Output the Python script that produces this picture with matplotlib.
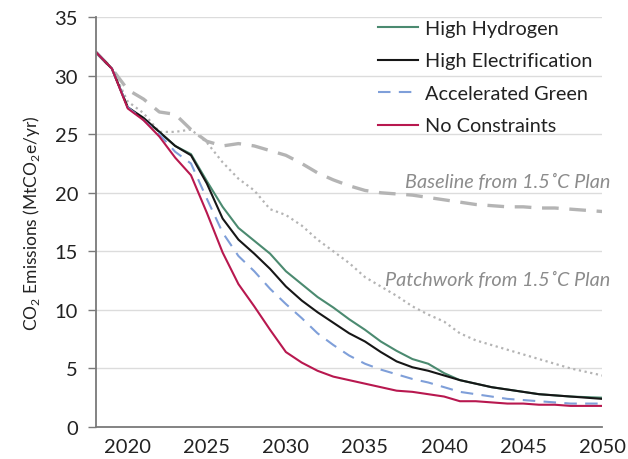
import matplotlib
matplotlib.use("Agg")
import matplotlib.pyplot as plt

plt.rcParams['font.family'] = ['Lato', 'DejaVu Sans']
plt.rcParams['mathtext.fontset'] = 'custom'
plt.rcParams['mathtext.rm'] = 'Lato'

years = list(range(2018, 2051))

# scenario emissions, MtCO2e/yr
high_hydrogen = [32.0, 30.6, 27.3, 26.3, 25.2, 24.0, 23.3, 21.0, 18.8, 17.0,
                 15.9, 14.8, 13.3, 12.2, 11.1, 10.2, 9.2, 8.3, 7.3, 6.5,
                 5.8, 5.4, 4.6, 4.0, 3.7, 3.4, 3.2, 3.0, 2.8, 2.7,
                 2.6, 2.55, 2.5]
high_electrification = [32.0, 30.6, 27.3, 26.4, 25.2, 24.0, 23.2, 20.8, 17.8, 16.0,
                        14.8, 13.5, 12.0, 10.8, 9.8, 8.9, 8.0, 7.3, 6.4, 5.6,
                        5.1, 4.8, 4.4, 4.0, 3.7, 3.4, 3.2, 3.0, 2.8, 2.7,
                        2.6, 2.5, 2.4]
accelerated_green = [32.0, 30.6, 27.3, 26.2, 25.0, 23.5, 22.5, 19.5, 16.6, 14.6,
                     13.3, 11.8, 10.5, 9.3, 8.0, 7.0, 6.1, 5.4, 4.9, 4.5,
                     4.1, 3.8, 3.4, 3.0, 2.8, 2.6, 2.4, 2.3, 2.2, 2.1,
                     2.0, 2.0, 2.0]
no_constraints = [32.0, 30.6, 27.2, 26.2, 24.8, 23.0, 21.5, 18.3, 14.9, 12.2,
                  10.3, 8.3, 6.4, 5.5, 4.8, 4.3, 4.0, 3.7, 3.4, 3.1,
                  3.0, 2.8, 2.6, 2.2, 2.2, 2.1, 2.0, 2.0, 1.9, 1.9,
                  1.8, 1.8, 1.8]

# reference pathways from the 1.5C plan
baseline = [32.0, 30.6, 28.8, 28.0, 26.9, 26.7, 25.4, 24.4, 24.0, 24.2,
            24.0, 23.6, 23.2, 22.5, 21.7, 21.1, 20.6, 20.2, 20.0, 19.9,
            19.8, 19.6, 19.4, 19.2, 19.0, 18.9, 18.8, 18.8, 18.7, 18.7,
            18.6, 18.5, 18.4]
patchwork = [32.0, 30.6, 27.8, 26.8, 25.2, 25.2, 25.4, 24.3, 22.6, 21.2,
             20.2, 18.6, 18.1, 17.2, 16.0, 15.0, 14.0, 12.8, 12.0, 11.2,
             10.3, 9.6, 9.0, 8.0, 7.4, 7.0, 6.6, 6.2, 5.8, 5.4,
             5.0, 4.7, 4.4]

fig = plt.figure(figsize=(6.28, 4.6), dpi=100)
ax = fig.add_axes([0.153, 0.0696, 0.806, 0.891])

ax.plot(years, baseline, color='#b4b4b4', lw=2.4, dashes=(5, 3.2))
ax.plot(years, patchwork, color='#b4b4b4', lw=1.6, linestyle=(0, (1, 1.6)))

ax.plot(years, high_hydrogen, color='#4b8a70', lw=1.5, label='High Hydrogen')
ax.plot(years, high_electrification, color='#161616', lw=1.5, label='High Electrification')
ax.plot(years, accelerated_green, color='#7f9fd9', lw=1.5, dashes=(6, 4),
        label='Accelerated Green')
ax.plot(years, no_constraints, color='#b8184f', lw=1.5, label='No Constraints')

ax.text(2050.5, 21.0, 'Baseline from 1.5\u02daC Plan', style='italic',
        color='#8c8c8c', fontsize=14.3, ha='right', va='center', clip_on=False)
ax.text(2050.5, 12.6, 'Patchwork from 1.5\u02daC Plan', style='italic',
        color='#8c8c8c', fontsize=14.3, ha='right', va='center', clip_on=False)

ax.set_xlim(2018, 2050)
ax.set_ylim(0, 35)
ax.set_xticks(range(2020, 2051, 5))
ax.set_yticks(range(0, 36, 5))
ax.grid(axis='y', color='#dcdcdc', lw=1)
ax.set_axisbelow(True)
for s in ['top', 'right']:
    ax.spines[s].set_visible(False)
for s in ['left', 'bottom']:
    ax.spines[s].set_color('#7a7a7a')
    ax.spines[s].set_linewidth(1.3)
ax.tick_params(axis='x', length=0, pad=8, labelsize=14.5, colors='#222222')
ax.tick_params(axis='y', length=6, width=1, color='#7a7a7a', pad=7,
               labelsize=14.5, labelcolor='#222222')
ax.set_ylabel('CO$_2$ Emissions (MtCO$_2$e/yr)', fontsize=12.5, color='#222222')
ax.yaxis.set_label_coords(-0.106, 0.5)

leg = ax.legend(loc='upper left', bbox_to_anchor=(0.557, 0.993), frameon=False,
                borderpad=0, borderaxespad=0, fontsize=14.3, handlelength=2.0,
                handletextpad=0.35, labelspacing=0.78)
for t in leg.get_texts():
    t.set_color('#222222')

fig.savefig('out.png', dpi=100)
